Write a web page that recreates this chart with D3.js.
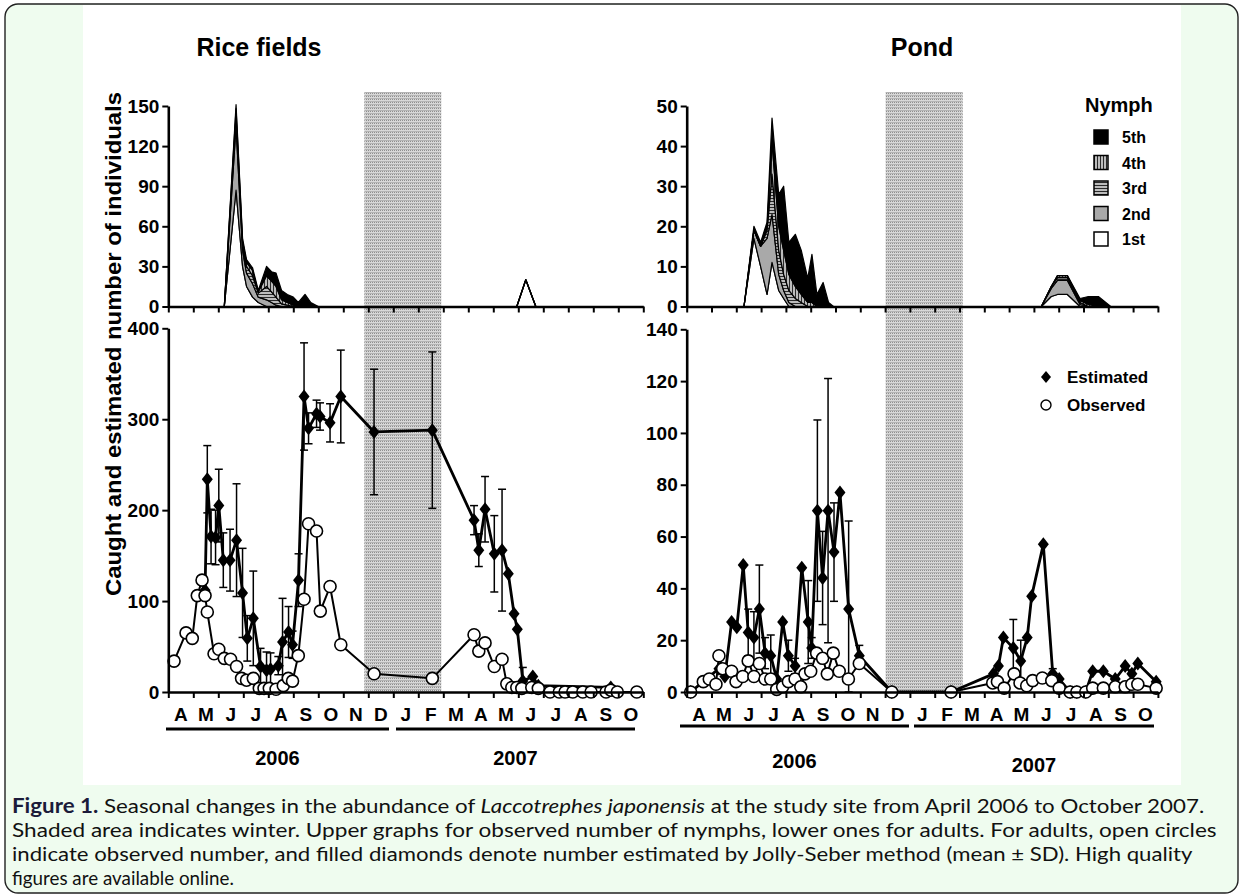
<!DOCTYPE html>
<html>
<head>
<meta charset="utf-8">
<script src="https://cdn.jsdelivr.net/npm/d3@7"></script>
<style>
  html, body { margin: 0; padding: 0; background: #fff; }
  svg { display: block; }
  .ax text { font-family: "Liberation Sans", Arial, sans-serif; font-weight: bold; font-size: 19px; fill: #000; }
  .lbl { font-family: "Liberation Sans", Arial, sans-serif; font-weight: bold; fill: #000; }
  .cap { font-family: Lato, "Open Sans", sans-serif; font-size: 20px; fill: #111; }
</style>
</head>
<body>
<svg id="fig" width="1243" height="895"></svg>
<script>
// month index: 0 = 1 April 2006 ... 19 = 1 November 2007
var monthLabels = ["A","M","J","J","A","S","O","N","D","J","F","M","A","M","J","J","A","S","O"];
var yearLabels = ["2006", "2007"];
var stageKeys = ["1st", "2nd", "3rd", "4th", "5th"];

// ---- Rice fields ----
var riceWinter = [7.84, 10.92];
var riceNymphT = [2.24, 2.71, 2.97, 3.13, 3.37, 3.6, 3.93, 4.13, 4.31, 4.53, 4.76, 5.0, 5.2, 5.47, 5.7, 6.0, 13.94, 14.3, 14.7];
var riceNymph1 = [0, 87, 30, 15, 7, 3, 0, 0, 0, 0, 0, 0, 0, 0, 0, 0, 0, 20, 0];
var riceNymph2 = [0, 48, 12, 10, 10, 4, 5, 3, 1, 0, 0, 0, 0, 0, 0, 0, 0, 0, 0];
var riceNymph3 = [0, 8, 4, 5, 6, 3, 10, 8, 6, 2, 1, 0, 0, 0, 0, 0, 0, 0, 0];
var riceNymph4 = [0, 5, 3, 3, 4, 1, 8, 8, 8, 3, 2, 1, 0, 1, 0, 0, 0, 0, 0];
var riceNymph5 = [0, 3, 2, 2, 2, 1, 7, 7, 10, 7, 6, 6, 3, 8, 3, 0, 0, 0, 0];

var riceObsT = [0.23, 0.71, 0.96, 1.16, 1.35, 1.47, 1.56, 1.83, 2.02, 2.24, 2.49, 2.73, 2.93, 3.13, 3.4, 3.64, 3.83, 4.04, 4.31, 4.6, 4.8, 4.97, 5.2, 5.43, 5.61, 5.93, 6.08, 6.47, 6.9, 8.23, 10.56, 12.23, 12.42, 12.67, 13.04, 13.35, 13.54, 13.74, 13.94, 14.14, 14.54, 14.8, 15.27, 15.64, 15.87, 16.18, 16.58, 16.91, 17.51, 17.7, 17.96, 18.74];
var riceObs = [34, 65, 59, 106, 123, 106, 88, 42, 47, 37, 36, 28, 15, 13, 15, 4, 4, 4, 3, 7, 15, 12, 40, 102, 185, 177, 89, 116, 52, 20, 15, 63, 45, 54, 28, 36, 9, 5, 5, 4, 5, 4, 0, 0, 0, 0, 0, 0, 0, 2, 0, 0];

var riceEstT = [1.47, 1.56, 1.71, 1.89, 2.02, 2.2, 2.47, 2.73, 2.97, 3.16, 3.4, 3.69, 3.93, 4.09, 4.4, 4.57, 4.81, 4.97, 5.21, 5.43, 5.61, 5.93, 6.07, 6.47, 6.9, 8.23, 10.56, 12.23, 12.42, 12.67, 13.04, 13.35, 13.6, 13.83, 13.96, 14.18, 14.58, 14.8, 17.7];
var riceEst = [112, 234, 171, 170, 205, 145, 145, 167, 109, 59, 81, 28, 24, 25, 29, 55, 66, 52, 123, 325, 290, 306, 303, 296, 325, 286, 288, 189, 156, 201, 152, 156, 130, 86, 69, 12, 17, 7, 5];
var riceEstSd = [0, 37, 30, 30, 40, 30, 34, 62, 49, 25, 52, 20, 20, 18, 10, 48, 28, 15, 29, 59, 17, 15, 15, 21, 51, 69, 86, 16, 18, 36, 42, 67, 0, 0, 0, 15, 0, 0, 0];

// ---- Pond ----
var pondWinter = [8.02, 11.13];
var pondNymphT = [2.31, 2.71, 2.98, 3.24, 3.44, 3.71, 3.91, 4.12, 4.38, 4.62, 4.88, 5.05, 5.25, 5.5, 5.72, 5.92, 14.3, 14.7, 14.95, 15.35, 15.86, 16.2, 16.6, 17.1];
var pondNymph1 = [0, 17, 10, 3, 11, 4, 2, 0, 0, 0, 0, 0, 0, 0, 0, 0, 0, 2.5, 3, 3, 0, 0, 0, 0];
var pondNymph2 = [0, 2, 5, 14, 12, 4, 2, 1, 0, 0, 0, 0, 0, 0, 0, 0, 0, 2, 3.5, 3.5, 0.5, 0, 0, 0];
var pondNymph3 = [0, 0, 0, 2, 10, 6, 4, 3, 2, 1, 0, 0, 0, 0, 0, 0, 0, 0.5, 0.7, 0.7, 0.5, 0, 0, 0];
var pondNymph4 = [0, 0, 0, 1, 8, 6, 6, 4, 3, 2, 1, 1, 0, 0, 0, 0, 0, 0, 0.5, 0.5, 0.5, 0.5, 0, 0];
var pondNymph5 = [0, 1, 1, 1, 6, 8, 16, 8, 13, 11, 6, 12, 3, 6, 1, 0, 0, 0, 0, 0, 0.5, 2, 2.5, 0];

var pondObsT = [0.16, 0.67, 0.91, 1.18, 1.3, 1.45, 1.81, 1.99, 2.26, 2.48, 2.71, 2.93, 3.16, 3.39, 3.63, 3.87, 4.1, 4.37, 4.6, 4.77, 5.0, 5.24, 5.48, 5.67, 5.91, 6.15, 6.52, 6.96, 8.27, 10.66, 12.34, 12.53, 12.8, 13.2, 13.44, 13.71, 13.95, 14.34, 14.72, 15.02, 15.46, 15.73, 16.09, 16.37, 16.8, 17.28, 17.68, 17.95, 18.19, 18.93];
var pondObs = [0, 4, 5, 3, 14, 9, 8, 4, 6, 12, 6, 11, 5, 5, 1, 2, 4, 5, 2, 7, 8, 15, 13, 7, 15, 8, 5, 11, 0, 0, 3.5, 4, 1.5, 7, 3.5, 2.4, 4.4, 5.4, 4.4, 1.5, 0, 0, 0, 1.5, 1.5, 2, 2, 3, 3, 1.5];

var pondEstT = [0.16, 1.3, 1.54, 1.81, 2.02, 2.28, 2.48, 2.71, 2.93, 3.16, 3.39, 3.63, 3.87, 4.1, 4.37, 4.64, 4.9, 5.04, 5.27, 5.48, 5.7, 5.94, 6.18, 6.53, 6.96, 8.27, 10.66, 12.37, 12.57, 12.77, 13.17, 13.47, 13.73, 13.91, 14.38, 14.76, 15.02, 15.46, 15.73, 16.09, 16.37, 16.8, 17.28, 17.68, 17.95, 18.19, 18.93];
var pondEst = [0, 9, 6, 27, 25, 49, 23, 21, 32, 15, 14, 5, 27, 14, 10, 48, 27, 17, 70, 44, 70, 54, 77, 32, 14, 0, 0, 7, 10, 21, 17, 12, 21, 37, 57, 7, 5, 0, 0, 0, 8, 8, 5, 10, 7, 11, 4];
var pondEstSd = [0, 0, 0, 0, 0, 0, 9, 10, 17, 6, 8, 0, 0, 6, 3, 0, 16, 4, 35, 18, 51, 19, 0, 34, 4, 0, 0, 0, 0, 0, 11, 8, 0, 0, 0, 2, 0, 0, 0, 0, 0, 0, 0, 0, 0, 0, 0];

var stageFills = ["#ffffff", "#a9a9a9", "url(#hatchH)", "url(#hatchV)", "#000000"];

var svg = d3.select("#fig");
var defs = svg.append("defs");

// hatch fills for 3rd / 4th instars
function stripePattern(id, vertical) {
    var p = defs.append("pattern").attr("id", id)
        .attr("patternUnits", "userSpaceOnUse").attr("width", 3).attr("height", 3);
    p.append("rect").attr("width", 3).attr("height", 3).attr("fill", "#bcbcbc");
    p.append("rect").attr("width", vertical ? 1 : 3).attr("height", vertical ? 3 : 1).attr("fill", "#2a2a2a");
}
stripePattern("hatchH", false);
stripePattern("hatchV", true);

// winter shading texture
var wp = defs.append("pattern").attr("id", "winter")
    .attr("patternUnits", "userSpaceOnUse").attr("width", 2).attr("height", 3);
wp.append("rect").attr("width", 2).attr("height", 3).attr("fill", "#d8d8d8");
wp.append("rect").attr("width", 1).attr("height", 1).attr("fill", "#8e8e8e");
wp.append("rect").attr("y", 2).attr("width", 2).attr("height", 1).attr("fill", "#b4b4b4");

// page frame + figure area
svg.append("rect").attr("x", 5).attr("y", 4).attr("width", 1233).attr("height", 889)
    .attr("rx", 13).attr("fill", "#effcef").attr("stroke", "#222").attr("stroke-width", 1.4);
svg.append("rect").attr("x", 83).attr("y", 5).attr("width", 1098).attr("height", 780).attr("fill", "#fff");

function drawPanel(p) {
    var x = d3.scaleLinear().domain([0, 19]).range([p.x0, p.x0 + 19 * p.mw]);
    var yTop = d3.scaleLinear().domain([0, p.topMax]).range([306.5, 106]);
    var yBot = d3.scaleLinear().domain([0, p.botMax]).range([692, p.botTop]);
    var g = svg.append("g");

    g.append("text").attr("class", "lbl").attr("x", p.titleX).attr("y", 56)
        .attr("text-anchor", "middle").style("font-size", "25px").text(p.title);

    // winter
    g.append("rect").attr("x", x(p.winter[0])).attr("y", 92)
        .attr("width", x(p.winter[1]) - x(p.winter[0])).attr("height", 600)
        .attr("fill", "url(#winter)");

    // UPPER: nymph stack
    var rows = p.nymT.map(function (t, i) {
        var r = { t: t };
        stageKeys.forEach(function (k, j) { r[k] = p.nym[j][i]; });
        return r;
    });
    var layers = d3.stack().keys(stageKeys)(rows);
    var area = d3.area()
        .x(function (d) { return x(d.data.t); })
        .y0(function (d) { return yTop(d[0]); })
        .y1(function (d) { return yTop(d[1]); });
    g.selectAll("path.layer").data(layers).enter().append("path")
        .attr("class", "layer")
        .attr("d", area)
        .attr("fill", function (d, i) { return stageFills[i]; })
        .attr("stroke", "#000").attr("stroke-width", 1.2).attr("stroke-linejoin", "round");

    var ayT = g.append("g").attr("class", "ax").attr("transform", "translate(" + p.x0 + ",0)")
        .call(d3.axisLeft(yTop).tickValues(p.topTicks).tickSizeInner(6).tickSizeOuter(0).tickPadding(3));
    var axT = g.append("g").attr("class", "ax").attr("transform", "translate(0," + yTop(0) + ")")
        .call(d3.axisBottom(x).tickValues(d3.range(0, 20)).tickFormat("").tickSizeInner(6).tickSizeOuter(0));

    // LOWER: adults
    var obs = p.obsT.map(function (t, i) { return { t: t, v: p.obs[i] }; });
    var est = p.estT.map(function (t, i) { return { t: t, v: p.est[i], sd: p.estSd[i] }; });
    var line = d3.line().x(function (d) { return x(d.t); }).y(function (d) { return yBot(d.v); });

    var bars = g.selectAll("g.err").data(est.filter(function (d) { return d.sd > 0; }))
        .enter().append("g").attr("class", "err")
        .attr("stroke", "#000").attr("stroke-width", 1.5);
    bars.append("line")
        .attr("x1", function (d) { return x(d.t); }).attr("x2", function (d) { return x(d.t); })
        .attr("y1", function (d) { return yBot(Math.max(0, d.v - d.sd)); })
        .attr("y2", function (d) { return yBot(d.v + d.sd); });
    bars.append("line")
        .attr("x1", function (d) { return x(d.t) - 4; }).attr("x2", function (d) { return x(d.t) + 4; })
        .attr("y1", function (d) { return yBot(d.v + d.sd); }).attr("y2", function (d) { return yBot(d.v + d.sd); });
    bars.append("line")
        .attr("x1", function (d) { return x(d.t) - 4; }).attr("x2", function (d) { return x(d.t) + 4; })
        .attr("y1", function (d) { return yBot(Math.max(0, d.v - d.sd)); }).attr("y2", function (d) { return yBot(Math.max(0, d.v - d.sd)); });

    g.append("path").datum(est).attr("d", line).attr("fill", "none")
        .attr("stroke", "#000").attr("stroke-width", 2.8).attr("stroke-linejoin", "round");
    g.append("path").datum(obs).attr("d", line).attr("fill", "none")
        .attr("stroke", "#000").attr("stroke-width", 2).attr("stroke-linejoin", "round");

    g.selectAll("path.dia").data(est).enter().append("path").attr("class", "dia")
        .attr("transform", function (d) { return "translate(" + x(d.t) + "," + yBot(d.v) + ")"; })
        .attr("d", "M0,-7L5.5,0L0,7L-5.5,0Z").attr("fill", "#000");
    g.selectAll("circle.obs").data(obs).enter().append("circle").attr("class", "obs")
        .attr("cx", function (d) { return x(d.t); }).attr("cy", function (d) { return yBot(d.v); })
        .attr("r", 6).attr("fill", "#fff").attr("stroke", "#000").attr("stroke-width", 1.6);

    var ayB = g.append("g").attr("class", "ax").attr("transform", "translate(" + p.x0 + ",0)")
        .call(d3.axisLeft(yBot).tickValues(p.botTicks).tickSizeInner(6).tickSizeOuter(0).tickPadding(3));
    var axB = g.append("g").attr("class", "ax").attr("transform", "translate(0,692)")
        .call(d3.axisBottom(x).tickValues(d3.range(0, 20)).tickFormat("").tickSizeInner(6).tickSizeOuter(0));

    [ayT, axT, ayB, axB].forEach(function (a) {
        a.select(".domain").attr("stroke-width", 2.6);
        a.selectAll(".tick line").attr("stroke-width", 2);
    });

    // month letters
    g.selectAll("text.mon").data(monthLabels).enter().append("text")
        .attr("class", "lbl mon").attr("x", function (d, i) { return x(i + 0.5); }).attr("y", 721)
        .attr("text-anchor", "middle").style("font-size", "19px").text(function (d) { return d; });

    // year bars
    p.years.forEach(function (yr, i) {
        g.append("line").attr("x1", yr.x1).attr("x2", yr.x2).attr("y1", p.yearLineY).attr("y2", p.yearLineY)
            .attr("stroke", "#000").attr("stroke-width", 3);
        g.append("text").attr("class", "lbl").attr("x", (yr.x1 + yr.x2) / 2).attr("y", yr.ty)
            .attr("text-anchor", "middle").style("font-size", "20px").text(yearLabels[i]);
    });
    return { x: x, yTop: yTop, yBot: yBot };
}

drawPanel({
    title: "Rice fields", titleX: 259, x0: 168.3, mw: 25, winter: riceWinter,
    topMax: 150, topTicks: [0, 30, 60, 90, 120, 150],
    botMax: 400, botTop: 328.3, botTicks: [0, 100, 200, 300, 400],
    nymT: riceNymphT, nym: [riceNymph1, riceNymph2, riceNymph3, riceNymph4, riceNymph5],
    obsT: riceObsT, obs: riceObs, estT: riceEstT, est: riceEst, estSd: riceEstSd,
    yearLineY: 729, years: [{ x1: 166, x2: 389, ty: 765 }, { x1: 396, x2: 635, ty: 765 }]
});

drawPanel({
    title: "Pond", titleX: 922, x0: 686.7, mw: 24.8, winter: pondWinter,
    topMax: 50, topTicks: [0, 10, 20, 30, 40, 50],
    botMax: 140, botTop: 329.3, botTicks: [0, 20, 40, 60, 80, 100, 120, 140],
    nymT: pondNymphT, nym: [pondNymph1, pondNymph2, pondNymph3, pondNymph4, pondNymph5],
    obsT: pondObsT, obs: pondObs, estT: pondEstT, est: pondEst, estSd: pondEstSd,
    yearLineY: 726, years: [{ x1: 680, x2: 909, ty: 768 }, { x1: 914, x2: 1154, ty: 772 }]
});

// y title
svg.append("text").attr("class", "lbl")
    .attr("transform", "translate(121,344) rotate(-90)")
    .attr("text-anchor", "middle").style("font-size", "22px")
    .attr("textLength", 504).attr("lengthAdjust", "spacingAndGlyphs")
    .text("Caught and estimated number of individuals");

// nymph legend
svg.append("text").attr("class", "lbl").attr("x", 1085).attr("y", 112).style("font-size", "20px").text("Nymph");
var legRows = stageKeys.slice().reverse();
var leg = svg.selectAll("g.leg").data(legRows).enter().append("g").attr("class", "leg")
    .attr("transform", function (d, i) { return "translate(1094," + (137 + i * 25.5) + ")"; });
leg.append("rect").attr("x", 0).attr("y", -7).attr("width", 14).attr("height", 14)
    .attr("fill", function (d) { return stageFills[stageKeys.indexOf(d)]; })
    .attr("stroke", "#000").attr("stroke-width", 1.5);
leg.append("text").attr("class", "lbl").attr("x", 28).attr("y", 6).style("font-size", "16px")
    .text(function (d) { return d; });

// adult legend
svg.append("path").attr("transform", "translate(1046,377)").attr("d", "M0,-6L5,0L0,6L-5,0Z").attr("fill", "#000");
svg.append("text").attr("class", "lbl").attr("x", 1067).attr("y", 383).style("font-size", "17px").text("Estimated");
svg.append("circle").attr("cx", 1046).attr("cy", 405).attr("r", 5).attr("fill", "#fff").attr("stroke", "#000").attr("stroke-width", 1.4);
svg.append("text").attr("class", "lbl").attr("x", 1067).attr("y", 411).style("font-size", "17px").text("Observed");

// caption, each line squeezed to its width in the original
var capLines = [
    { y: 813, w: 1193, parts: [["Figure 1.", "b"], [" Seasonal changes in the abundance of ", ""], ["Laccotrephes japonensis", "i"], [" at the study site from April 2006 to October 2007.", ""]] },
    { y: 837, w: 1205, parts: [["Shaded area indicates winter. Upper graphs for observed number of nymphs, lower ones for adults. For adults, open circles", ""]] },
    { y: 861, w: 1181, parts: [["indicate observed number, and filled diamonds denote number estimated by Jolly-Seber method (mean \u00b1 SD). High quality", ""]] },
    { y: 885, w: 222, parts: [["figures are available online.", ""]] }
];
capLines.forEach(function (ln) {
    var t = svg.append("text").attr("class", "cap").attr("x", 0).attr("y", 0);
    ln.parts.forEach(function (pt) {
        var s = t.append("tspan").text(pt[0]);
        if (pt[1] == "b") s.style("font-weight", "bold").style("fill", "#1b1b3a");
        if (pt[1] == "i") s.style("font-style", "italic");
    });
    var w = t.node().getComputedTextLength();
    t.attr("transform", "translate(12," + ln.y + ") scale(" + (ln.w / w) + ",1)");
});
</script>
</body>
</html>
